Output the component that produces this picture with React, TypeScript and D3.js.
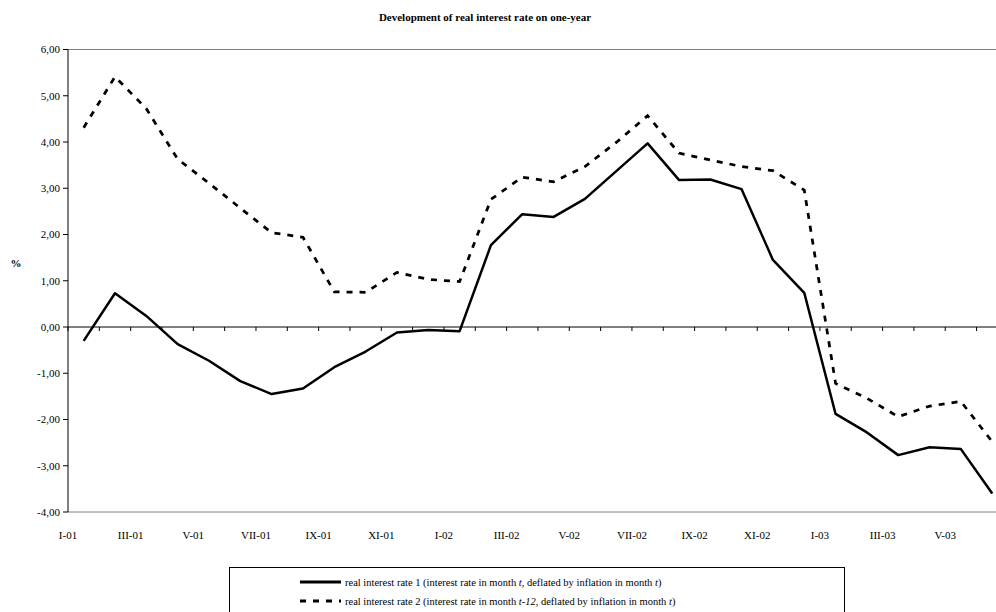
import * as d3 from "d3";

const W = 996;
const H = 612;
const MARGIN = { top: 49.5, left: 68, bottom: 512 };
const BAND = 31.33;

const months = [
  "I-01", "II-01", "III-01", "IV-01", "V-01", "VI-01", "VII-01", "VIII-01", "IX-01", "X-01", "XI-01", "XII-01",
  "I-02", "II-02", "III-02", "IV-02", "V-02", "VI-02", "VII-02", "VIII-02", "IX-02", "X-02", "XI-02", "XII-02",
  "I-03", "II-03", "III-03", "IV-03", "V-03", "VI-03",
];

// real interest rate 1 (t, deflated by inflation in t)
const rate1 = [
  -0.3, 0.73, 0.24, -0.37, -0.73, -1.17, -1.45, -1.33, -0.87, -0.53, -0.12, -0.065,
  -0.09, 1.77, 2.44, 2.38, 2.77, 3.37, 3.97, 3.18, 3.19, 2.98, 1.45, 0.74,
  -1.88, -2.28, -2.77, -2.6, -2.64, -3.6,
];

// real interest rate 2 (t-12, deflated by inflation in t)
const rate2 = [
  4.31, 5.41, 4.72, 3.63, 3.11, 2.57, 2.04, 1.94, 0.76, 0.75, 1.18, 1.03,
  0.98, 2.76, 3.24, 3.14, 3.47, 3.99, 4.57, 3.76, 3.61, 3.47, 3.38, 2.96,
  -1.22, -1.54, -1.94, -1.71, -1.61, -2.48,
];

const yTicks = [6, 5, 4, 3, 2, 1, 0, -1, -2, -3, -4];

const legendItems = [
  { dash: "none", pre: "real interest rate 1 (interest rate in month ", it: "t", mid: ", deflated by inflation in month ", it2: "t", post: ")" },
  { dash: "6,7", pre: "real interest rate 2 (interest rate in month ", it: "t-12", mid: ", deflated by inflation in month ", it2: "t", post: ")" },
];

const fmt = (v: number) => v.toFixed(2).replace(".", ",");

export default function App() {
  const xScale = d3
    .scaleBand<string>()
    .domain(months)
    .range([MARGIN.left, MARGIN.left + months.length * BAND])
    .padding(0);
  const yScale = d3.scaleLinear().domain([-4, 6]).range([MARGIN.bottom, MARGIN.top]);
  const cx = (i: number) => (xScale(months[i]) || 0) + xScale.bandwidth() / 2;
  const right = MARGIN.left + months.length * BAND;

  const line = d3
    .line<number>()
    .x((_, i) => cx(i))
    .y((d) => yScale(d));

  const y0 = yScale(0);

  return (
    <svg
      width={W}
      height={H}
      style={{ position: "absolute", left: 0, top: 0, background: "#fff" }}
      fontFamily="'Liberation Serif', 'Times New Roman', serif"
    >
      <rect width={W} height={H} fill="#fff" />
      <text x={485} y={21} textAnchor="middle" fontSize={11} fontWeight="bold">
        Development of real interest rate on one-year
      </text>

      {/* plot frame */}
      <line x1={MARGIN.left} x2={right} y1={MARGIN.top} y2={MARGIN.top} stroke="#808080" />
      <line x1={MARGIN.left} x2={right} y1={MARGIN.bottom} y2={MARGIN.bottom} stroke="#808080" />

      {/* y axis */}
      <line x1={MARGIN.left} x2={MARGIN.left} y1={MARGIN.top} y2={MARGIN.bottom} stroke="#000" />
      {yTicks.map((t) => (
        <g key={t}>
          <line x1={MARGIN.left - 5} x2={MARGIN.left} y1={yScale(t)} y2={yScale(t)} stroke="#000" />
          <text x={MARGIN.left - 8} y={yScale(t)} dy="0.35em" textAnchor="end" fontSize={11}>
            {fmt(t)}
          </text>
        </g>
      ))}
      <text x={16} y={263} textAnchor="middle" fontSize={11} fontWeight="bold" dy="0.35em">
        %
      </text>

      {/* x axis at zero */}
      <line x1={MARGIN.left} x2={right} y1={y0} y2={y0} stroke="#000" />
      {months.map((m) => (
        <line key={m} x1={xScale(m)} x2={xScale(m)} y1={y0} y2={y0 + 4} stroke="#000" />
      ))}
      {months.map((m, i) =>
        i % 2 === 0 ? (
          <text key={m} x={xScale(m)} y={539} textAnchor="middle" fontSize={11}>
            {m}
          </text>
        ) : null
      )}

      <path d={line(rate2) || ""} fill="none" stroke="#000" strokeWidth={2.75} strokeDasharray="6,7" />
      <path d={line(rate1) || ""} fill="none" stroke="#000" strokeWidth={2.5} strokeLinejoin="round" />

      {/* legend */}
      <rect x={229.5} y={567.5} width={615} height={60} fill="#fff" stroke="#000" />
      {legendItems.map((d, i) => {
        const y = 582 + i * 19;
        return (
          <g key={i}>
            <line x1={300} x2={341} y1={y} y2={y} stroke="#000" strokeWidth={3} strokeDasharray={d.dash} />
            <text x={345} y={y} dy="0.35em" fontSize={10.5}>
              {d.pre}
              <tspan fontStyle="italic">{d.it}</tspan>
              {d.mid}
              <tspan fontStyle="italic">{d.it2}</tspan>
              {d.post}
            </text>
          </g>
        );
      })}
    </svg>
  );
}
